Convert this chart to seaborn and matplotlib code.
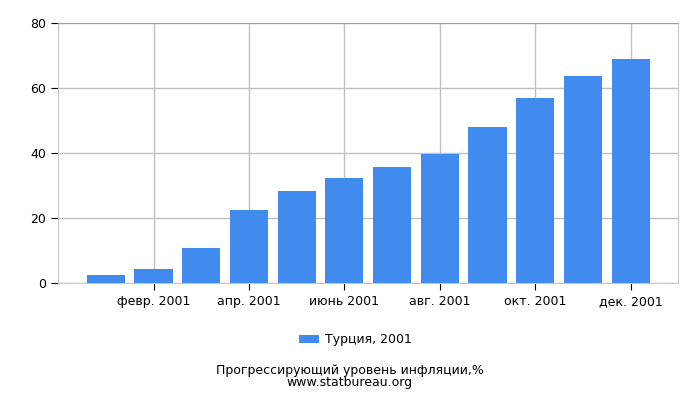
import matplotlib
matplotlib.use("Agg")
import matplotlib.pyplot as plt
import seaborn as sns
import pandas as pd

# Data
months = ["янв. 2001", "февр. 2001", "март 2001", "апр. 2001", "май 2001", "июнь 2001",
          "июль 2001", "авг. 2001", "сент. 2001", "окт. 2001", "нояб. 2001", "дек. 2001"]
inflation = [2.6, 4.4, 10.9, 22.3, 28.4, 32.4, 35.5, 39.5, 47.8, 56.7, 63.5, 68.7]
series_name = "Турция, 2001"

df = pd.DataFrame({"month": months, "value": inflation, "series": series_name})

sns.set_style("white")
plt.rcParams["font.family"] = ["DejaVu Sans"]
plt.rcParams["text.color"] = "black"
plt.rcParams["xtick.color"] = "black"
plt.rcParams["ytick.color"] = "black"

fig = plt.figure(figsize=(7, 4), dpi=100)
ax = fig.add_axes([0.083, 0.2925, 0.886, 0.651])

sns.barplot(data=df, x="month", y="value", hue="series", palette=["#418bee"],
            width=0.8, saturation=1, linewidth=0, ax=ax, zorder=3, legend=True)

ax.set_xlim(-1, 12)
ax.set_ylim(0, 80)
ax.set_yticks([0, 20, 40, 60, 80])
tick_idx = list(range(1, 12, 2))
ax.set_xticks(tick_idx)
ax.set_xticklabels([months[i] for i in tick_idx])
ax.set_xlabel("")
ax.set_ylabel("")

ax.grid(True, color="#c0c0c0", linewidth=1, zorder=0)
for side in ["left", "bottom", "right"]:
    ax.spines[side].set_color("#c8c8c8")
ax.spines["top"].set_color("#a0a0a0")
ax.tick_params(axis="both", length=5, color="black", labelcolor="black", labelsize=9,
               direction="out", bottom=True, left=True)

leg = ax.legend(loc="upper center", bbox_to_anchor=(0.48, -0.15), frameon=False,
                fontsize=9, handlelength=1.6, handleheight=0.7, handletextpad=0.5)

fig.text(0.5, 0.059, "Прогрессирующий уровень инфляции,%\nwww.statbureau.org",
         ha="center", va="center", fontsize=9, linespacing=0.85, color="black")

fig.savefig("out.png", dpi=100)
